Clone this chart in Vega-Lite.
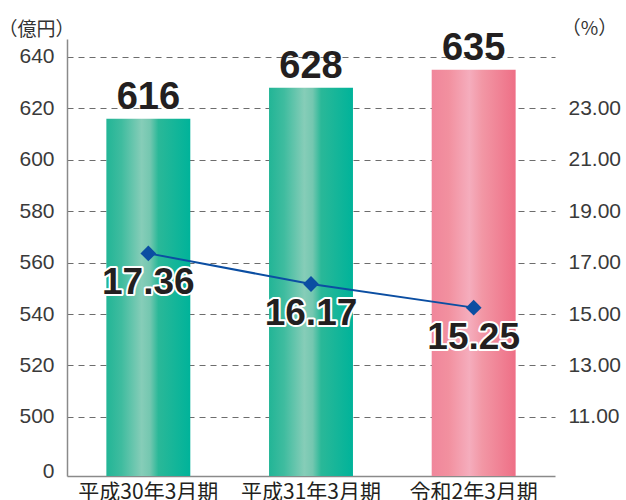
{
  "$schema": "https://vega.github.io/schema/vega-lite/v6.json",
  "width": 488,
  "height": 437,
  "autosize": {"type": "none"},
  "padding": {"left": 67, "top": 39, "right": 71, "bottom": 24},
  "background": "white",
  "config": {"view": {"stroke": null}, "font": "Liberation Sans"},
  "data": {
    "values": [
      {"period": "平成30年3月期", "sales": 616, "rate": 17.36, "fy": "past"},
      {"period": "平成31年3月期", "sales": 628, "rate": 16.17, "fy": "past"},
      {"period": "令和2年3月期", "sales": 635, "rate": 15.25, "fy": "current"}
    ]
  },
  "encoding": {
    "x": {
      "field": "period",
      "type": "nominal",
      "sort": null,
      "scale": {"paddingInner": 0.484, "paddingOuter": 0.242},
      "axis": {
        "title": null,
        "labelAngle": 0,
        "labelFont": "Noto Sans CJK JP",
        "labelFontSize": 21,
        "labelColor": "#231f20",
        "labelPadding": 5,
        "labelOverlap": false,
        "ticks": false,
        "domainColor": "#8a8a8a",
        "domainWidth": 1.5
      }
    }
  },
  "layer": [
    {
      "encoding": {
        "y": {
          "field": "sales",
          "type": "quantitative",
          "scale": {"domain": [477, 647], "zero": false, "nice": false},
          "axis": {
            "title": "（億円）",
            "titleAngle": 0,
            "titleX": -31,
            "titleY": -10,
            "titleAlign": "center",
            "titleBaseline": "middle",
            "titleFont": "Noto Sans CJK JP",
            "titleFontSize": 19,
            "titleFontWeight": "normal",
            "titleColor": "#333333",
            "values": [478.7, 500, 520, 540, 560, 580, 600, 620, 640],
            "labelExpr": "datum.value < 490 ? '0' : datum.label",
            "labelFontSize": 21,
            "labelColor": "#3a3a3a",
            "labelPadding": 13,
            "labelFlush": false,
            "labelOverlap": false,
            "ticks": false,
            "domainColor": "#8a8a8a",
            "domainWidth": 1.5,
            "grid": true,
            "gridColor": "#6d6d6d",
            "gridDash": [6, 5],
            "gridWidth": 1.2,
            "gridOpacity": {"condition": {"test": "datum.value < 490", "value": 0}, "value": 1}
          }
        }
      },
      "layer": [
        {
          "transform": [{"filter": "datum.fy == 'past'"}],
          "mark": {
            "type": "bar",
            "color": {
              "gradient": "linear", "x1": 0, "y1": 0, "x2": 1, "y2": 0,
              "stops": [
                {"offset": 0, "color": "#22b596"},
                {"offset": 0.18, "color": "#3fbc9f"},
                {"offset": 0.42, "color": "#86cdb8"},
                {"offset": 0.52, "color": "#74c7b0"},
                {"offset": 0.62, "color": "#2ab898"},
                {"offset": 1, "color": "#00b39a"}
              ]
            }
          },
          "encoding": {"y2": {"datum": 477}}
        },
        {
          "transform": [{"filter": "datum.fy == 'current'"}],
          "mark": {
            "type": "bar",
            "color": {
              "gradient": "linear", "x1": 0, "y1": 0, "x2": 1, "y2": 0,
              "stops": [
                {"offset": 0, "color": "#f0869b"},
                {"offset": 0.2, "color": "#f2909f"},
                {"offset": 0.45, "color": "#f5adbd"},
                {"offset": 0.6, "color": "#f297a5"},
                {"offset": 1, "color": "#ee6f86"}
              ]
            }
          },
          "encoding": {"y2": {"datum": 477}}
        },
        {
          "mark": {"type": "text", "baseline": "alphabetic", "dy": -9.5, "fontSize": 38, "fontWeight": "bold", "color": "#231f20"},
          "encoding": {"text": {"field": "sales", "type": "quantitative"}}
        }
      ]
    },
    {
      "encoding": {
        "y": {
          "field": "rate",
          "type": "quantitative",
          "scale": {"domain": [8.7, 25.7], "zero": false, "nice": false},
          "axis": {
            "orient": "right",
            "title": "（%）",
            "titleAngle": 0,
            "titleX": 34,
            "titleY": -11,
            "titleAlign": "center",
            "titleBaseline": "middle",
            "titleFont": "Noto Sans CJK JP",
            "titleFontSize": 19,
            "titleFontWeight": "normal",
            "titleColor": "#333333",
            "values": [11, 13, 15, 17, 19, 21, 23],
            "format": ".2f",
            "labelFontSize": 21,
            "labelColor": "#3a3a3a",
            "labelPadding": 13,
            "labelFlush": false,
            "labelOverlap": false,
            "ticks": false,
            "domain": false,
            "grid": false
          }
        }
      },
      "layer": [
        {"mark": {"type": "line", "color": "#0b4ea2", "strokeWidth": 2}, "encoding": {}},
        {"mark": {"type": "point", "shape": "diamond", "filled": true, "size": 250, "color": "#0b4ea2", "opacity": 1}, "encoding": {}},
        {
          "mark": {"type": "text", "baseline": "alphabetic", "dy": 41, "fontSize": 37, "fontWeight": "bold", "fill": "white", "stroke": "white", "strokeWidth": 4, "strokeJoin": "round"},
          "encoding": {"text": {"field": "rate", "type": "quantitative", "format": ".2f"}}
        },
        {
          "mark": {"type": "text", "baseline": "alphabetic", "dy": 41, "fontSize": 37, "fontWeight": "bold", "color": "#231f20"},
          "encoding": {"text": {"field": "rate", "type": "quantitative", "format": ".2f"}}
        }
      ]
    }
  ],
  "resolve": {"scale": {"y": "independent"}}
}
